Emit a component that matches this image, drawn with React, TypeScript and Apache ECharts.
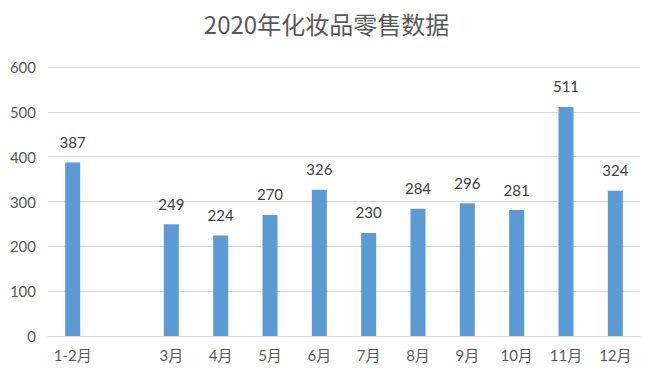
import React, { useEffect, useRef } from "react";
import * as echarts from "echarts";

const categories = ["1-2月", "", "3月", "4月", "5月", "6月", "7月", "8月", "9月", "10月", "11月", "12月"];
const values: (number | null)[] = [387, null, 249, 224, 270, 326, 230, 284, 296, 281, 511, 324];
const yTicks = { min: 0, max: 600, interval: 100 };
const titleText = "2020年化妆品零售数据";

const FONT = "Lato, 'Noto Sans CJK SC', sans-serif";
const TFONT = "'Noto Sans CJK SC', sans-serif";

export default function App() {
  const ref = useRef<HTMLDivElement>(null);
  useEffect(() => {
    if (!ref.current) return;
    const chart = echarts.init(ref.current, undefined, { renderer: "svg" });
    chart.setOption({
      animation: false,
      backgroundColor: "#ffffff",
      title: {
        text: titleText,
        left: "center",
        top: 6,
        textStyle: { fontFamily: TFONT, fontSize: 24, fontWeight: "normal", color: "#595959" },
      },
      grid: { left: 48, right: 13, top: 67, bottom: 41 },
      xAxis: {
        type: "category",
        data: categories,
        axisLine: { lineStyle: { color: "#d9d9d9" } },
        axisTick: { show: false },
        axisLabel: { fontFamily: FONT, fontSize: 15, color: "#595959", margin: 11, interval: 0 },
      },
      yAxis: {
        type: "value",
        min: yTicks.min,
        max: yTicks.max,
        interval: yTicks.interval,
        axisLine: { show: false },
        axisTick: { show: false },
        splitLine: { lineStyle: { color: "#d9d9d9" } },
        axisLabel: { fontFamily: FONT, fontSize: 15, color: "#595959", margin: 12 },
      },
      series: [
        {
          type: "bar",
          data: values.map((v) => (v === null ? "-" : v)),
          barWidth: 15,
          itemStyle: { color: "#5B9BD5" },
          label: {
            show: true,
            position: "top",
            distance: 13,
            fontFamily: FONT,
            fontSize: 15,
            color: "#404040",
          },
        },
      ],
    });
    return () => chart.dispose();
  }, []);
  return <div ref={ref} style={{ position: "fixed", left: 0, top: 0, width: 653, height: 377 }} />;
}
